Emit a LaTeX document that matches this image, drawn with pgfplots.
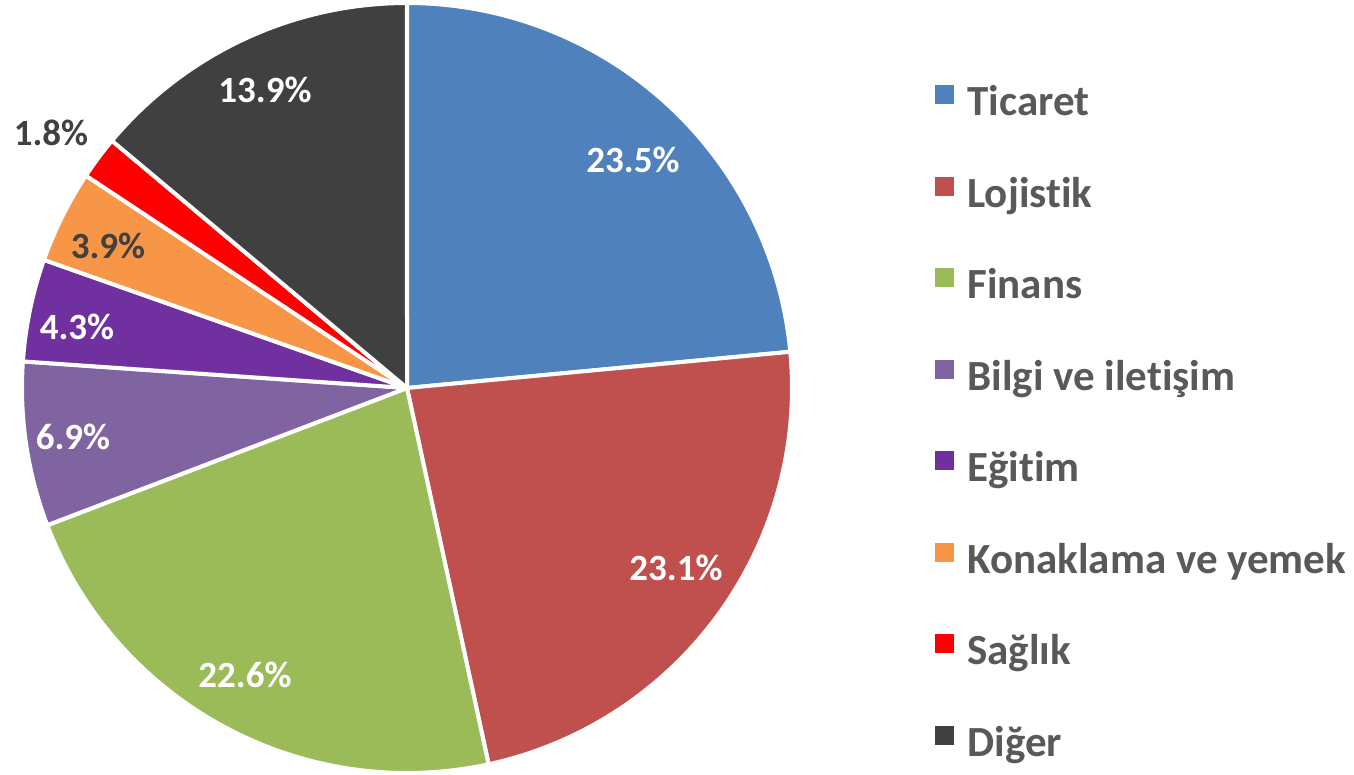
\documentclass[border=0pt]{standalone}
\usepackage{pgfplots}
\pgfplotsset{compat=1.18}
\usepackage{fontspec}
\setmainfont{Carlito}[Ligatures=NoCommon]
\definecolor{cTic}{HTML}{4F81BD}
\definecolor{cLoj}{HTML}{C0504D}
\definecolor{cFin}{HTML}{9BBB59}
\definecolor{cBil}{HTML}{8064A2}
\definecolor{cEgi}{HTML}{7030A0}
\definecolor{cKon}{HTML}{F79646}
\definecolor{cSag}{HTML}{FF0000}
\definecolor{cDig}{HTML}{404040}
\definecolor{legtext}{HTML}{595959}
\definecolor{darklab}{HTML}{404040}
% slice: #1 cumulative start (%), #2 share (%), #3 colour, #4 name
\newcommand{\slice}[4]{%
  \addplot[fill=#3, draw=white, line width=2pt, line join=round, domain=0:1, samples=80, variable=\t]
    ({407+385*cos(90-3.6*(#1+#2*\t))}, {386+385*sin(90-3.6*(#1+#2*\t))}) -- (axis cs:407,386) -- cycle;
  \addlegendentry{#4}
}
\begin{document}
\begin{tikzpicture}
\begin{axis}[
  hide axis, scale only axis,
  width=677pt, height=387pt,
  xmin=0, xmax=1354, ymin=0, ymax=774,
  clip=false,
  legend cell align=left,
  legend image code/.code={\fill[#1,draw=none] (0pt,1.75pt) rectangle (9.5pt,11.25pt);},
  legend style={draw=none, fill=none, inner sep=0pt, at={(axis cs:935,689)}, anchor=north west,
    font=\bfseries\fontsize{21.5}{21.5}\selectfont, text=legtext,
    nodes={inner sep=0pt, text height=12pt, text depth=4pt},
    row sep=26.5pt},
]
\path (axis cs:0,0) (axis cs:1354,774);
\slice{0}{23.5}{cTic}{\hspace{6.5pt}Ticaret}
\slice{23.5}{23.1}{cLoj}{\hspace{6.5pt}Lojistik}
\slice{46.6}{22.6}{cFin}{\hspace{6.5pt}Finans}
\slice{69.2}{6.9}{cBil}{\hspace{6.5pt}Bilgi ve iletişim}
\slice{76.1}{4.3}{cEgi}{\hspace{6.5pt}Eğitim}
\slice{80.4}{3.9}{cKon}{\hspace{6.5pt}Konaklama ve yemek}
\slice{84.3}{1.8}{cSag}{\hspace{6.5pt}Sağlık}
\slice{86.1}{13.9}{cDig}{\hspace{6.5pt}Diğer}
\begin{scope}[every node/.style={font=\bfseries\fontsize{18.5}{18.5}\selectfont}]
\node[text=white] at (axis cs:633,614) {23.5\%};
\node[text=white] at (axis cs:676,206) {23.1\%};
\node[text=white] at (axis cs:245,99) {22.6\%};
\node[text=white] at (axis cs:73,337) {6.9\%};
\node[text=white] at (axis cs:77,447) {4.3\%};
\node[text=darklab] at (axis cs:108,528) {3.9\%};
\node[text=darklab] at (axis cs:51,641) {1.8\%};
\node[text=white] at (axis cs:265,684) {13.9\%};
\end{scope}
\end{axis}
\end{tikzpicture}
\end{document}
